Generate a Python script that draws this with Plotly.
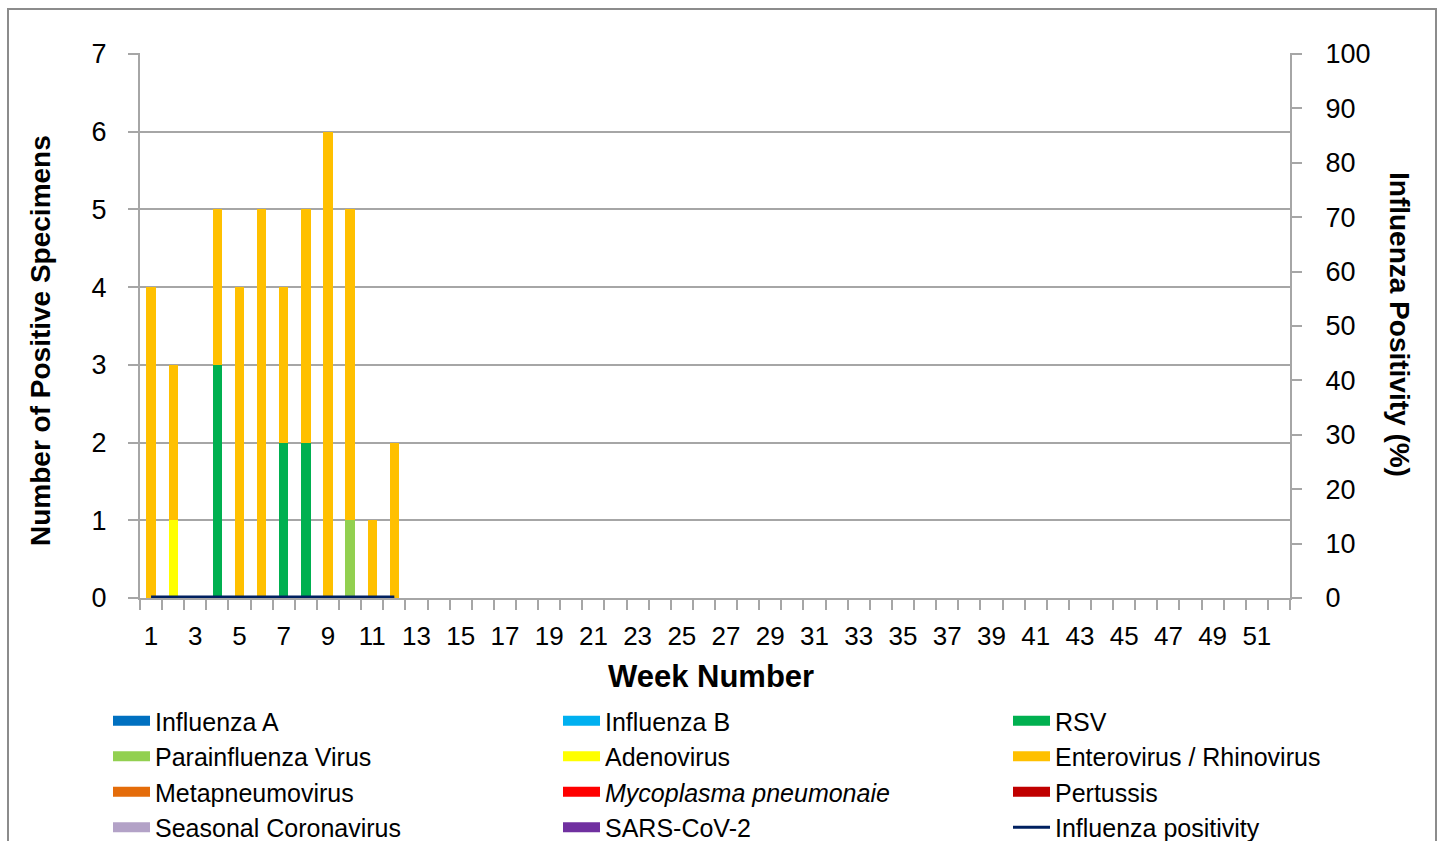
import plotly.graph_objects as go

weeks = list(range(1, 13))
influenza_a = [0] * 12
influenza_b = [0] * 12
rsv = [0, 0, 0, 3, 0, 0, 2, 2, 0, 0, 0, 0]
parainfluenza = [0, 0, 0, 0, 0, 0, 0, 0, 0, 1, 0, 0]
adenovirus = [0, 1, 0, 0, 0, 0, 0, 0, 0, 0, 0, 0]
entero_rhino = [4, 2, 0, 2, 4, 5, 2, 3, 6, 4, 1, 2]
metapneumo = [0] * 12
mycoplasma = [0] * 12
pertussis = [0] * 12
seasonal_cov = [0] * 12
sars_cov2 = [0] * 12
flu_positivity = [0] * 12

x_tick_vals = list(range(1, 52, 2))
x_tick_text = [str(v) for v in x_tick_vals]

series = [
    ("Influenza A", influenza_a, "#0070C0", "legend"),
    ("Influenza B", influenza_b, "#00B0F0", "legend2"),
    ("RSV", rsv, "#00B050", "legend3"),
    ("Parainfluenza Virus", parainfluenza, "#92D050", "legend"),
    ("Adenovirus", adenovirus, "#FFFF00", "legend2"),
    ("Enterovirus / Rhinovirus", entero_rhino, "#FFC000", "legend3"),
    ("Metapneumovirus", metapneumo, "#E46C0A", "legend"),
    ("<i>Mycoplasma pneumonaie</i>", mycoplasma, "#FF0000", "legend2"),
    ("Pertussis", pertussis, "#C00000", "legend3"),
    ("Seasonal Coronavirus", seasonal_cov, "#B3A2C7", "legend"),
    ("SARS-CoV-2", sars_cov2, "#7030A0", "legend2"),
]

FONT = "Liberation Sans, Arial, sans-serif"
fig = go.Figure()

for name, vals, color, lg in series:
    fig.add_trace(go.Bar(x=weeks, y=vals, name=name, marker=dict(color=color, line=dict(width=0)),
                         width=0.42, showlegend=False))

fig.add_trace(go.Scatter(x=weeks, y=flu_positivity, yaxis="y2", mode="lines",
                         line=dict(color="#002060", width=5), showlegend=False,
                         name="Influenza positivity"))

# legend entries (wide swatches)
for name, vals, color, lg in series:
    fig.add_trace(go.Scatter(x=[None], y=[None], mode="lines", name=name,
                             line=dict(color=color, width=12), legend=lg))
fig.add_trace(go.Scatter(x=[None], y=[None], mode="lines", name="Influenza positivity",
                         line=dict(color="#002060", width=3), legend="legend3"))

W, H = 1446, 841
L, R, T, B = 140, 1290, 54, 598
pw, ph = R - L, B - T

def px(x):
    return (x - L) / pw

def py(y):
    return (B - y) / ph

grid = "#A6A6A6"
leg_common = dict(font=dict(family=FONT, size=25, color="black"), bgcolor="rgba(0,0,0,0)",
                  xanchor="left", yanchor="top", orientation="v", itemwidth=37,
                  tracegroupgap=0, borderwidth=0, traceorder="normal")

fig.update_layout(
    width=W, height=H,
    margin=dict(l=L, r=W - R, t=T, b=H - B, autoexpand=False),
    paper_bgcolor="white", plot_bgcolor="white",
    barmode="stack", bargap=0,
    font=dict(family=FONT, size=26, color="black"),
    xaxis=dict(range=[0.5, 52.5], tickmode="array", tickvals=x_tick_vals, ticktext=x_tick_text,
               ticks="", showgrid=False, zeroline=False, showline=True, linecolor=grid, linewidth=2,
               tickfont=dict(size=26), ticklabelstandoff=14,
               minor=dict(ticks="outside", tick0=0.5, dtick=1, ticklen=10, tickcolor=grid,
                          tickwidth=2, showgrid=False)),
    yaxis=dict(range=[0, 7], dtick=1, ticks="outside", ticklen=10, tickcolor=grid, tickwidth=2,
               showgrid=True, gridcolor=grid, gridwidth=2, zeroline=False, showline=True,
               linecolor=grid, linewidth=2, tickfont=dict(size=27), ticklabelstandoff=16),
    yaxis2=dict(range=[0, 100], dtick=10, overlaying="y", side="right", ticks="outside",
                ticklen=10, tickcolor=grid, tickwidth=2, showgrid=False, zeroline=False,
                showline=True, linecolor=grid, linewidth=2, tickfont=dict(size=27),
                ticklabelstandoff=18),
    legend=dict(x=px(108), y=py(698), **leg_common),
    legend2=dict(x=px(558), y=py(698), **leg_common),
    legend3=dict(x=px(1008), y=py(698), **leg_common),
    shapes=[
        dict(type="rect", xref="paper", yref="paper", x0=px(8), x1=px(1436), y0=py(860), y1=py(9),
             line=dict(color="#8C8C8C", width=2), fillcolor="rgba(0,0,0,0)", layer="below"),
        dict(type="line", xref="paper", yref="paper", x0=px(130), x1=0, y0=1, y1=1,
             line=dict(color=grid, width=2)),
        dict(type="line", xref="paper", yref="paper", x0=1, x1=px(1300), y0=1, y1=1,
             line=dict(color=grid, width=2)),
    ],
    annotations=[
        dict(text="<b>Number of Positive Specimens</b>", xref="paper", yref="paper",
             x=px(40), y=py(341), textangle=-90, showarrow=False, font=dict(size=28),
             xanchor="center", yanchor="middle"),
        dict(text="<b>Influenza Positivity (%)</b>", xref="paper", yref="paper",
             x=px(1400), y=py(325), textangle=90, showarrow=False, font=dict(size=28),
             xanchor="center", yanchor="middle"),
        dict(text="<b>Week Number</b>", xref="paper", yref="paper",
             x=px(711), y=py(676), showarrow=False, font=dict(size=31),
             xanchor="center", yanchor="middle"),
    ],
)

fig.write_html("out.html", config={"displayModeBar": False},
               post_script="document.body.style.margin='0';document.body.style.overflow='hidden';")
